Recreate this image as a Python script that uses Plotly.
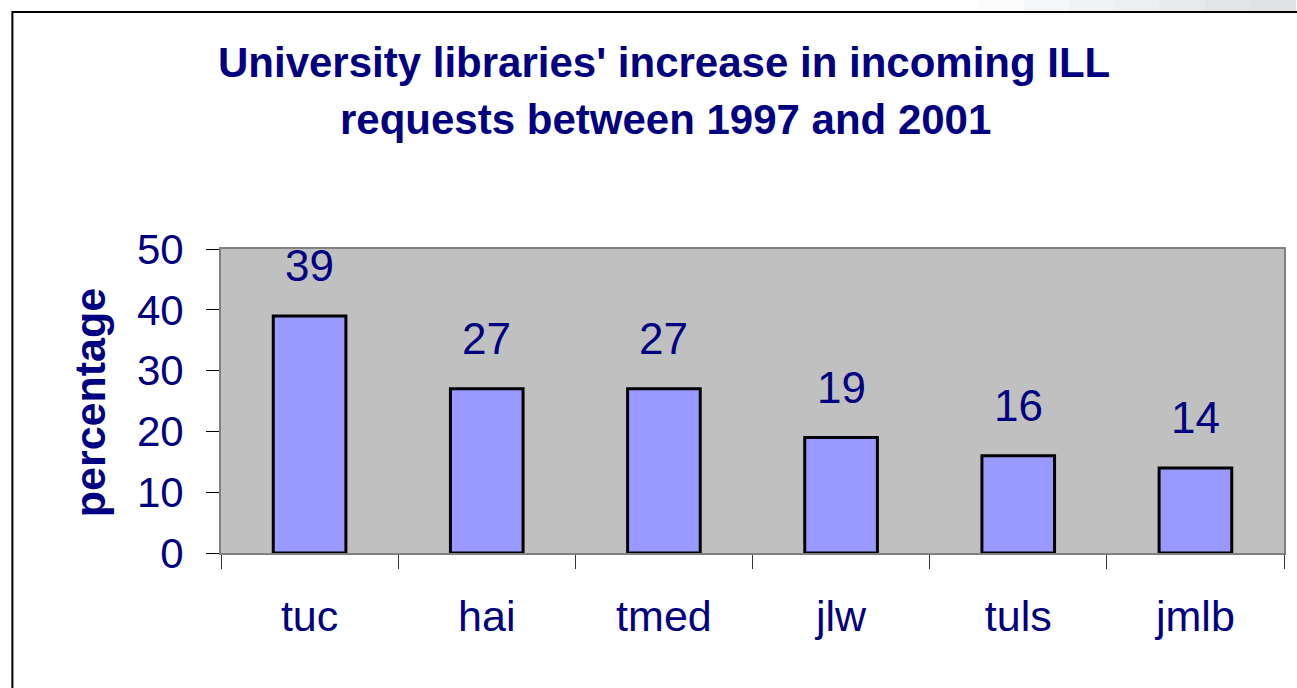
import plotly.graph_objects as go

categories = ["tuc", "hai", "tmed", "jlw", "tuls", "jmlb"]
values = [39, 27, 27, 19, 16, 14]
y_ticks = [0, 10, 20, 30, 40, 50]
title_lines = ["University libraries' increase in incoming ILL",
               "requests between 1997 and 2001"]
y_title = "percentage"

NAVY = "#000080"
FONT = "Liberation Sans, Arial, sans-serif"

W, H = 1297, 688
L, R, T, B = 221, 11, 249, 135
pw, ph = W - L - R, H - T - B


def px_x(p):
    return (p - L) / pw


def px_y(p):
    return (H - B - p) / ph


fig = go.Figure()
fig.add_trace(go.Bar(
    x=categories, y=values, width=0.41,
    marker=dict(color="#9999FF", line=dict(color="black", width=3)),
    hoverinfo="x+y",
))

annotations = []
for c, v in zip(categories, values):
    annotations.append(dict(x=c, y=v, xref="x", yref="y", text=str(v),
                            showarrow=False, yshift=50, yanchor="middle",
                            font=dict(family=FONT, size=44, color=NAVY)))
annotations.append(dict(x=px_x(665), y=px_y(62), xref="paper", yref="paper",
                        text="<b>" + title_lines[0] + "</b>", showarrow=False,
                        xanchor="center", yanchor="middle",
                        font=dict(family=FONT, size=42, color=NAVY)))
annotations.append(dict(x=px_x(666), y=px_y(120), xref="paper", yref="paper",
                        text="<b>" + title_lines[1] + "</b>", showarrow=False,
                        xanchor="center", yanchor="middle",
                        font=dict(family=FONT, size=42, color=NAVY)))
annotations.append(dict(x=px_x(90), y=px_y(403), xref="paper", yref="paper",
                        text="<b>" + y_title + "</b>", showarrow=False, textangle=-90,
                        xanchor="center", yanchor="middle",
                        font=dict(family=FONT, size=43, color=NAVY)))

shapes = []
# top-right gray gradient strip
grad = ["#fbfbfc", "#f6f7f8", "#f1f2f4", "#eceef0", "#e7e9ec", "#e2e5e8", "#dfe2e5"]
x_start, x_end = 980, 1297
step = (x_end - x_start) / len(grad)
for i, col in enumerate(grad):
    shapes.append(dict(type="rect", xref="paper", yref="paper", layer="below",
                       x0=px_x(x_start + i * step), x1=px_x(x_start + (i + 1) * step + 1),
                       y0=px_y(11), y1=px_y(-2), line=dict(width=0), fillcolor=col))
# outer chart border
shapes.append(dict(type="rect", xref="paper", yref="paper",
                   x0=px_x(12), x1=px_x(1310), y0=px_y(700), y1=px_y(12),
                   line=dict(color="black", width=2), fillcolor="rgba(0,0,0,0)"))

fig.update_layout(
    width=W, height=H,
    margin=dict(l=L, r=R, t=T, b=B, pad=0),
    paper_bgcolor="white",
    plot_bgcolor="#C0C0C0",
    showlegend=False,
    bargap=0.59,
    annotations=annotations,
    shapes=shapes,
    font=dict(family=FONT, color=NAVY),
)
fig.update_xaxes(
    type="category", tickson="boundaries", ticks="outside", ticklen=14,
    tickcolor="#333333", tickwidth=1,
    showline=True, linecolor="#808080", linewidth=2, mirror=True,
    showgrid=False, tickfont=dict(family=FONT, size=43, color=NAVY),
    ticklabelstandoff=24,
)
fig.update_yaxes(
    range=[0, 50], tickvals=y_ticks, ticks="outside", ticklen=13,
    tickcolor="black", tickwidth=1,
    showline=True, linecolor="#808080", linewidth=2, mirror=True,
    showgrid=False, zeroline=False,
    tickfont=dict(family=FONT, size=42, color=NAVY),
    ticklabelstandoff=14,
)

fig.write_html("out.html", config={"displayModeBar": False},
               post_script="document.body.style.margin='0';document.body.style.padding='0';")
